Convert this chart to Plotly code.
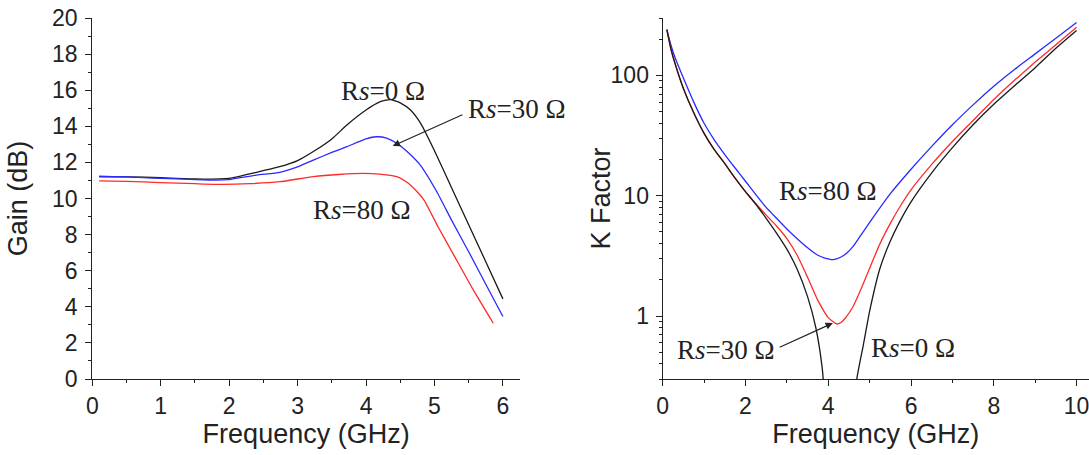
import math
import plotly.graph_objects as go

# ---------------- Gain data (left) ----------------
gain_f_rs0 = [0.1, 0.5, 1.0, 1.5, 2.0, 2.4, 2.74, 3.0, 3.23, 3.5, 3.72, 4.0, 4.2, 4.35, 4.5, 4.65, 4.8, 5.0, 5.25, 5.5, 5.75, 6.0]
gain_rs0 = [11.22, 11.2, 11.15, 11.08, 11.12, 11.45, 11.76, 12.1, 12.6, 13.3, 14.07, 14.9, 15.35, 15.48, 15.3, 14.9, 14.15, 12.65, 10.6, 8.55, 6.5, 4.44]

gain_f_rs30 = [0.1, 0.5, 1.0, 1.5, 1.82, 2.0, 2.4, 2.74, 3.0, 3.23, 3.5, 3.72, 4.0, 4.15, 4.3, 4.45, 4.6, 4.79, 5.03, 5.25, 5.5, 5.75, 6.0]
gain_rs30 = [11.22, 11.2, 11.12, 11.05, 11.02, 11.05, 11.3, 11.45, 11.75, 12.13, 12.55, 12.87, 13.3, 13.42, 13.35, 13.06, 12.6, 11.86, 10.4, 8.8, 7.05, 5.25, 3.46]

gain_f_rs80 = [0.1, 0.5, 1.0, 1.5, 1.9, 2.3, 2.74, 3.23, 3.6, 3.96, 4.2, 4.45, 4.6, 4.74, 4.85, 5.05, 5.3, 5.55, 5.86]
gain_rs80 = [10.98, 10.95, 10.88, 10.82, 10.78, 10.82, 10.93, 11.21, 11.33, 11.39, 11.35, 11.21, 10.9, 10.4, 9.9, 8.45, 6.75, 5.05, 3.09]

# ---------------- K factor data (right) ----------------
k_f_rs0 = [0.1, 0.2, 0.3, 0.5, 0.75, 1.0, 1.25, 1.5, 1.75, 2.0, 2.25, 2.5, 2.75, 3.0, 3.25, 3.5, 3.7, 3.85, 3.92]
k_rs0 = [240, 165, 125, 78, 49, 33, 24, 18.5, 14, 10.8, 8.5, 6.5, 4.9, 3.6, 2.45, 1.45, 0.8, 0.38, 0.2]
k_f_rs0_hi = [4.62, 4.69, 4.85, 5.0, 5.25, 5.5, 5.75, 6.0, 6.5, 7.0, 7.5, 8.0, 8.5, 9.0, 9.5, 10.0]
k_rs0_hi = [0.15, 0.3, 0.58, 1.1, 2.5, 4.2, 6.3, 8.9, 15.5, 25.1, 38.9, 57.5, 82, 116, 168, 236]

k_f_rs30 = [0.1, 0.2, 0.3, 0.5, 0.75, 1.0, 1.25, 1.5, 1.75, 2.0, 2.25, 2.5, 2.75, 3.0, 3.25, 3.5, 3.75, 4.0, 4.2, 4.3, 4.4, 4.6, 4.8, 5.0, 5.25, 5.5, 5.75, 6.0, 6.5, 7.0, 7.5, 8.0, 8.5, 9.0, 9.5, 10.0]
k_rs30 = [240, 165, 125, 78, 49, 33, 24, 18.5, 14, 10.8, 8.6, 6.9, 5.6, 4.4, 3.2, 2.1, 1.35, 0.97, 0.86, 0.88, 0.95, 1.2, 1.7, 2.5, 4.0, 5.9, 8.3, 11.2, 18.2, 28.2, 42.2, 63, 91, 129, 180, 251]

k_f_rs80 = [0.1, 0.2, 0.3, 0.5, 0.75, 1.0, 1.25, 1.5, 1.75, 2.0, 2.25, 2.5, 2.75, 3.0, 3.25, 3.5, 3.75, 3.9, 4.12, 4.3, 4.45, 4.6, 4.75, 5.0, 5.5, 6.0, 6.5, 7.0, 7.5, 8.0, 8.5, 9.0, 9.5, 10.0]
k_rs80 = [240, 178, 140, 95, 60, 40, 29, 22, 17, 13.2, 10.2, 8.0, 6.5, 5.3, 4.4, 3.7, 3.2, 3.05, 2.95, 3.08, 3.35, 3.8, 4.5, 6.0, 10.4, 16.6, 25.7, 38.9, 56.9, 81.3, 112, 151, 204, 275]

gain_ticks = [0, 2, 4, 6, 8, 10, 12, 14, 16, 18, 20]
k_ticks = [1, 10, 100]
k_minor = [0.3, 0.4, 0.5, 0.6, 0.7, 0.8, 0.9, 2, 3, 4, 5, 6, 7, 8, 9,
           20, 30, 40, 50, 60, 70, 80, 90, 200, 300]

W, H = 1089, 455
BLACK, BLUE, RED = "#1a1a1a", "#2a2aff", "#ff2a2a"
LW = 1.3
SM = 0.5


def line(color):
    return dict(color=color, width=LW, shape="spline", smoothing=SM)


fig = go.Figure()
# left
fig.add_trace(go.Scatter(x=gain_f_rs0, y=gain_rs0, mode="lines", line=line(BLACK), xaxis="x", yaxis="y"))
fig.add_trace(go.Scatter(x=gain_f_rs30, y=gain_rs30, mode="lines", line=line(BLUE), xaxis="x", yaxis="y"))
fig.add_trace(go.Scatter(x=gain_f_rs80, y=gain_rs80, mode="lines", line=line(RED), xaxis="x", yaxis="y"))
# right
fig.add_trace(go.Scatter(x=k_f_rs80, y=k_rs80, mode="lines", line=line(BLUE), xaxis="x2", yaxis="y2"))
fig.add_trace(go.Scatter(x=k_f_rs30, y=k_rs30, mode="lines", line=line(RED), xaxis="x2", yaxis="y2"))
fig.add_trace(go.Scatter(x=k_f_rs0, y=k_rs0, mode="lines", line=line(BLACK), xaxis="x2", yaxis="y2"))
fig.add_trace(go.Scatter(x=k_f_rs0_hi, y=k_rs0_hi, mode="lines", line=line(BLACK), xaxis="x2", yaxis="y2"))

INK = "#222"
tickfont = dict(family="Liberation Sans, Arial", size=23, color=INK)
titlefont = dict(family="Liberation Sans, Arial", size=27, color=INK)
axcommon = dict(showline=True, linecolor=INK, linewidth=1.3, ticks="outside", ticklen=6,
                tickwidth=1.2, tickcolor=INK, showgrid=False, zeroline=False, tickfont=tickfont,
                mirror=False, automargin=False, ticklabeloverflow="allow")


def minor(vals):
    return dict(tickvals=vals, ticks="outside", ticklen=3, tickcolor=INK, tickwidth=1.1)


fig.update_layout(
    width=W, height=H,
    margin=dict(l=0, r=0, t=18, b=76),
    paper_bgcolor="white", plot_bgcolor="white",
    showlegend=False,
    xaxis=dict(domain=[92.3 / W, 520 / W], range=[0, 6.25], tickvals=[0, 1, 2, 3, 4, 5, 6],
               minor=minor([0.5, 1.5, 2.5, 3.5, 4.5, 5.5]),
               title=dict(text="Frequency (GHz)", font=titlefont, standoff=6), anchor="y", **axcommon),
    yaxis=dict(domain=[0, 1], range=[0, 20], tickvals=gain_ticks, ticklabelstandoff=3,
               minor=minor([1, 3, 5, 7, 9, 11, 13, 15, 17, 19]),
               title=dict(text="Gain (dB)", font=titlefont, standoff=16), anchor="x", **axcommon),
    xaxis2=dict(domain=[662.7 / W, 1.0], range=[0, 10.3], tickvals=[0, 2, 4, 6, 8, 10],
                minor=minor([1, 3, 5, 7, 9]),
                title=dict(text="Frequency (GHz)", font=titlefont, standoff=6), anchor="y2", **axcommon),
    yaxis2=dict(domain=[0, 1], type="log", range=[math.log10(0.3), math.log10(300)], tickvals=k_ticks,
                ticktext=["1", "10", "100"], ticklabelstandoff=2,
                minor=minor(k_minor), anchor="x2", **axcommon),
)

afont = dict(family="Liberation Serif, Times New Roman", size=27, color=INK)
# right y-axis title placed as rotated text next to its tick labels
fig.add_annotation(x=600 / W, y=0.5, xref="paper", yref="paper", text="K Factor", textangle=-90,
                   showarrow=False, font=titlefont, xanchor="center", yanchor="middle")
# left annotations
fig.add_annotation(x=4.25, y=15.95, xref="x", yref="y", text="R<i>s</i>=0 Ω", showarrow=False, font=afont)
fig.add_annotation(x=6.2, y=14.95, xref="x", yref="y", text="R<i>s</i>=30 Ω", showarrow=False, font=afont)
fig.add_annotation(x=3.94, y=9.35, xref="x", yref="y", text="R<i>s</i>=80 Ω", showarrow=False, font=afont)
fig.add_annotation(x=4.39, y=12.91, ax=5.43, ay=14.68, xref="x", yref="y", axref="x", ayref="y",
                   text="", showarrow=True, arrowhead=2, arrowsize=1.2, arrowwidth=1.2, arrowcolor=INK)
# right annotations (log axis -> log10 values)
fig.add_annotation(x=3.99, y=math.log10(11.0), xref="x2", yref="y2", text="R<i>s</i>=80 Ω", showarrow=False, font=afont)
fig.add_annotation(x=1.53, y=math.log10(0.52), xref="x2", yref="y2", text="R<i>s</i>=30 Ω", showarrow=False, font=afont)
fig.add_annotation(x=6.05, y=math.log10(0.54), xref="x2", yref="y2", text="R<i>s</i>=0 Ω", showarrow=False, font=afont)
fig.add_annotation(x=4.11, y=math.log10(0.875), ax=2.79, ay=math.log10(0.543), xref="x2", yref="y2", axref="x2", ayref="y2",
                   text="", showarrow=True, arrowhead=2, arrowsize=1.2, arrowwidth=1.2, arrowcolor=INK)

fig.write_html("out.html", config={"displayModeBar": False},
               post_script="document.body.style.margin='0';document.body.style.padding='0';")
